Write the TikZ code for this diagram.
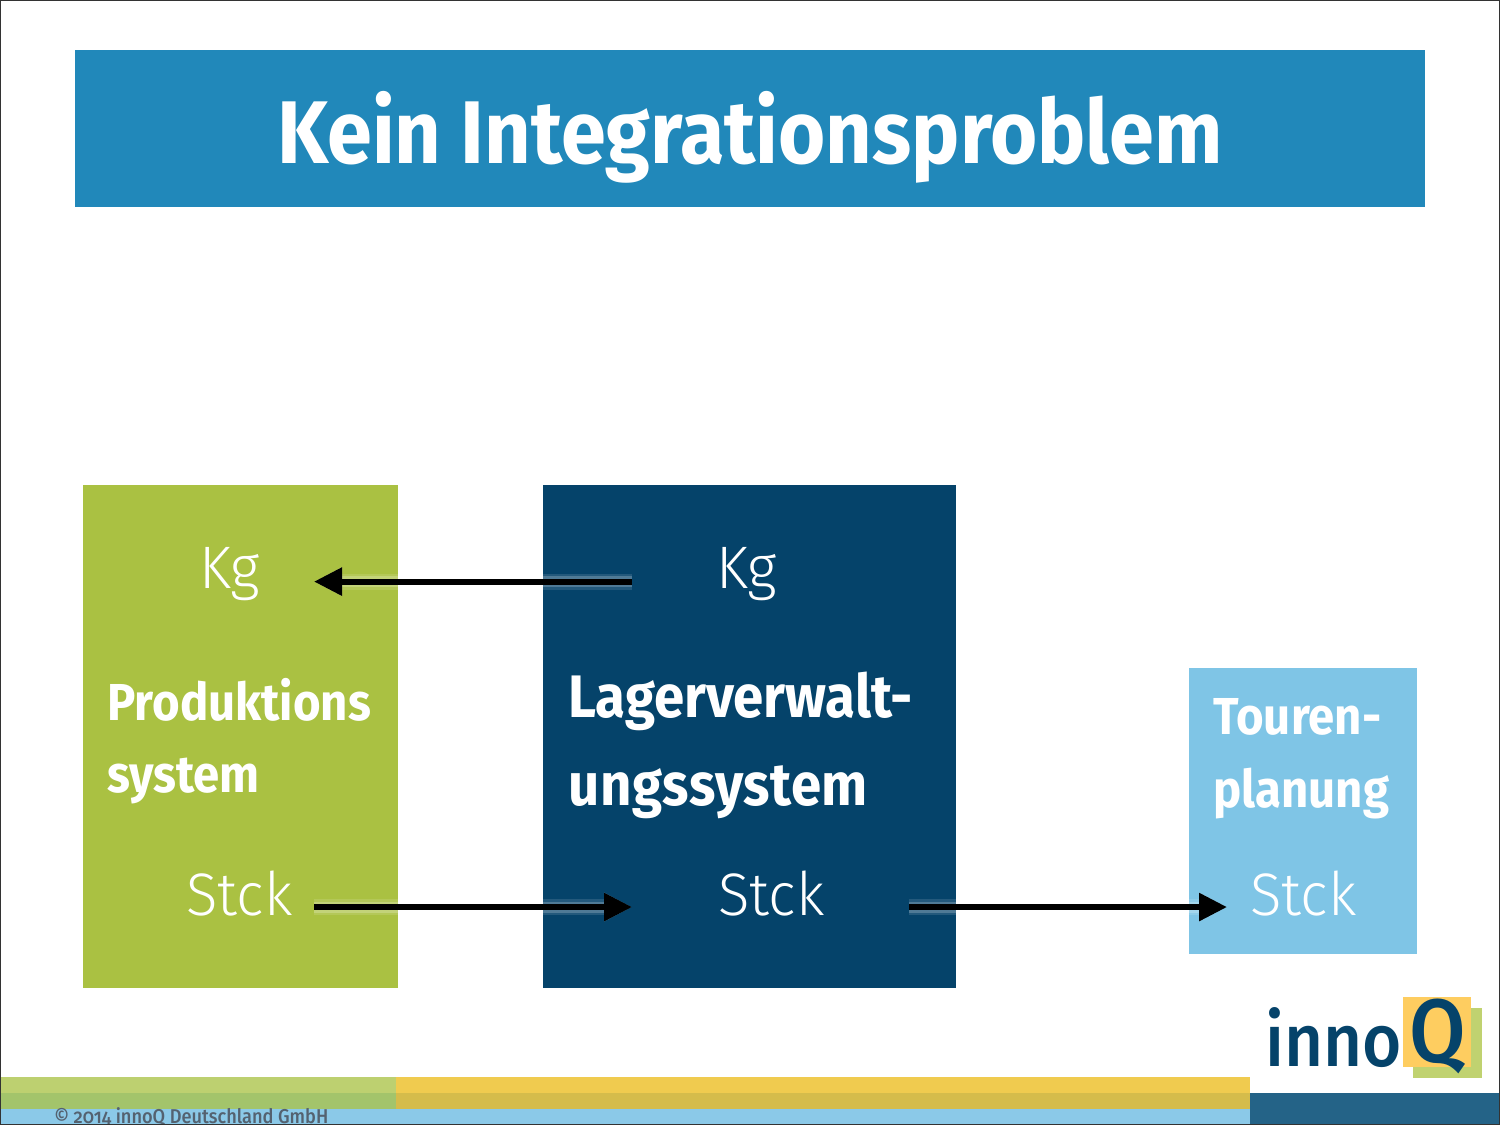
\documentclass[tikz,border=0pt]{standalone}
\usepackage{fontspec}
\setmainfont{Fira Sans}[FakeStretch=.91]
\newfontfamily\lightfont{Fira Sans Light}[FakeStretch=.97]
\newfontfamily\mediumfont{Fira Sans Medium}[FakeStretch=.91]
\usepackage{xcolor}
\usetikzlibrary{arrows.meta,positioning}
\definecolor{titleblue}{RGB}{33,136,186}
\definecolor{prodgreen}{RGB}{170,193,66}
\definecolor{lagerblue}{RGB}{5,67,106}
\definecolor{tourblue}{RGB}{127,197,230}
\definecolor{footgreen}{RGB}{189,208,112}
\definecolor{footgreenb}{RGB}{163,196,107}
\definecolor{footyellow}{RGB}{240,203,79}
\definecolor{footyellowb}{RGB}{213,188,75}
\definecolor{footblue}{RGB}{139,201,232}
\definecolor{footdark}{RGB}{36,99,135}
\definecolor{logoyellow}{RGB}{254,205,96}
\definecolor{logogreen}{RGB}{192,210,112}
\definecolor{footgrey}{RGB}{84,98,112}

\begin{document}
\begin{tikzpicture}[
  x=0.5pt,y=-0.5pt,
  box/.style={
    anchor=north west,
    inner sep=0pt,
    outer sep=0pt
  },
  systemname/.style={
    anchor=base west,
    inner sep=0pt,
    text=white,
    font=\bfseries\fontsize{26}{26}\selectfont
  },
  unitname/.style={
    anchor=base west,
    inner sep=0pt,
    text=white,
    font=\lightfont\fontsize{30}{30}\selectfont
  },
  arrow/.style={
    -{Triangle[length=14pt,width=13.5pt]},
    line width=3pt,
    draw=black,
    preaction={draw=white,opacity=.12,line width=8pt},
    preaction={draw=white,opacity=.2,line width=5.5pt}
  }
]
\useasboundingbox (0,0) rectangle (1500,1125);

% title
\node[box,fill=titleblue,minimum width=675pt,minimum height=78.5pt] (titlebar) at (75,50) {};
\node[text=white,font=\bfseries\fontsize{44.5}{46}\selectfont,inner sep=0pt] (title) at (750,137) {Kein Integrationsproblem};

% boxes
\node[box,fill=prodgreen,minimum width=157.5pt,minimum height=251.5pt] (prod) at (83,485) {};
\node[box,fill=lagerblue,minimum width=206.5pt,minimum height=251.5pt] (lager) at (543,485) {};
\node[box,fill=tourblue,minimum width=114pt,minimum height=143pt] (tour) at (1189,668) {};

% texts
\node[unitname] (kgprod) at (199,588) {Kg};
\node[systemname] (prodname) at (107,720) {Produktions};
\node[systemname] (prodname2) at (107,792) {system};
\node[unitname] (stckprod) at (186,915) {Stck};

\node[unitname] (kglager) at (716,588) {Kg};
\node[systemname,font=\bfseries\fontsize{30}{30}\selectfont] (lagername) at (568,717) {Lagerverwalt-};
\node[systemname,font=\bfseries\fontsize{30}{30}\selectfont\addfontfeature{LetterSpace=1}] (lagername2) at (568,805) {ungssystem};
\node[unitname] (stcklager) at (718,915) {Stck};

\node[systemname] (tourname) at (1213,734) {Touren-};
\node[systemname] (tourname2) at (1213,807) {planung};
\node[unitname] (stcktour) at (1250,915) {Stck};

% arrows
\draw[arrow] ([xshift=-42pt,yshift=-4pt]kglager.west) -- ([xshift=27pt,yshift=-4pt]kgprod.east);
\draw[arrow] ([xshift=10.5pt,yshift=-7pt]stckprod.east) -- ([xshift=-43pt,yshift=-7pt]stcklager.west);
\draw[arrow] ([xshift=42pt,yshift=-7pt]stcklager.east) -- ([xshift=-11.5pt,yshift=-7pt]stcktour.west);

% footer
\node[box,fill=footgreen,minimum width=198pt,minimum height=8pt] (foota) at (0,1077) {};
\node[box,fill=footgreenb,minimum width=198pt,minimum height=8pt] (footb) at (0,1093) {};
\node[box,fill=footyellow,minimum width=427pt,minimum height=8pt] (footc) at (396,1077) {};
\node[box,fill=footyellowb,minimum width=427pt,minimum height=8pt] (footd) at (396,1093) {};
\node[box,fill=footblue,minimum width=625pt,minimum height=8pt] (foote) at (0,1109) {};
\node[box,fill=footdark,minimum width=125pt,minimum height=16pt] (footf) at (1250,1093) {};
\node[anchor=base west,inner sep=0pt,text=footgrey,font=\mediumfont\fontsize{10}{10}\selectfont\addfontfeature{Numbers=OldStyle}] (copyright) at (54,1123) {© 2014 innoQ Deutschland GmbH};

% logo
\node[box,fill=logogreen,minimum width=34.5pt,minimum height=35pt] (logob) at (1413,1008) {};
\node[box,fill=logoyellow,minimum width=34pt,minimum height=35pt] (logoa) at (1403,997) {};
\node[anchor=base west,inner sep=0pt,text=lagerblue,font=\mediumfont\fontsize{37}{37}\selectfont] (logoinno) at (1265,1066) {inno};
\node[anchor=base west,inner sep=0pt,text=lagerblue,font=\mediumfont\fontsize{45}{45}\selectfont] (logoq) at (1409,1062) {Q};

% frame
\draw[line width=0.6pt,draw=black!80] (0,0) rectangle (1500,1125);
\end{tikzpicture}
\end{document}
